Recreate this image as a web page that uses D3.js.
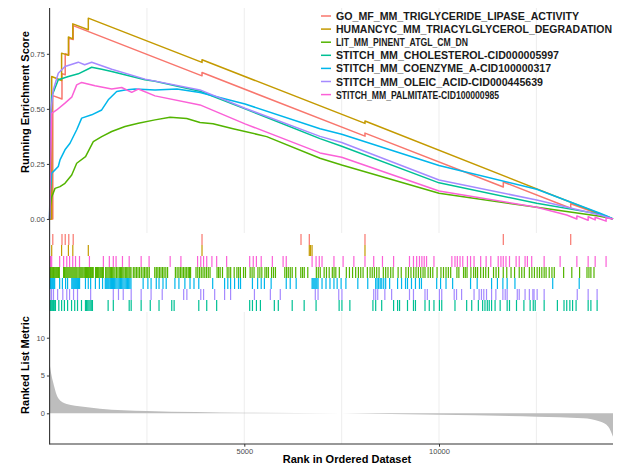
<!DOCTYPE html>
<html>
<head>
<meta charset="utf-8">
<script src="https://cdn.jsdelivr.net/npm/d3@7"></script>
<style>
  body { margin: 0; background: #fff; }
  text { font-family: "Liberation Sans", Arial, Helvetica, sans-serif; }
</style>
</head>
<body>
<div id="chart"></div>
<script>
// gene sets (legend order)
const geneSets = [
  "GO_MF_MM_TRIGLYCERIDE_LIPASE_ACTIVITY",
  "HUMANCYC_MM_TRIACYLGLYCEROL_DEGRADATION",
  "LIT_MM_PINENT_ATGL_CM_DN",
  "STITCH_MM_CHOLESTEROL-CID000005997",
  "STITCH_MM_COENZYME_A-CID100000317",
  "STITCH_MM_OLEIC_ACID-CID000445639",
  "STITCH_MM_PALMITATE-CID100000985"
];
const setColors = ["#F8766D", "#C49A00", "#53B400", "#00C094", "#00B6EB", "#A58AFF", "#FB61D7"];
const legendWidths = [243, 276, 132, 223, 215, 207, 163];

const totalGenes = 14468;
const xTicks = [5000, 10000];
const xGrid = [2500, 5000, 7500, 10000, 12500];
const esTicks = [0, 0.25, 0.5, 0.75];
const metricTicks = [0, 5, 10];

// running enrichment score, [rank, score]
const esGoMf = [[0,0],[82,0],[82,0.56],[318,0.545],[318,0.66],[401,0.655],[401,0.75],[493,0.745],[493,0.82],[606,0.815],[606,0.878],[3914,0.65],[3914,0.665],[8099,0.376],[8099,0.39],[11651,0.145],[11651,0.168],[13382,0.049],[13382,0.069],[14468,0]];
const esHumancyc = [[0,0],[54,0],[54,0.647],[308,0.629],[308,0.753],[483,0.743],[483,0.826],[596,0.818],[596,0.886],[994,0.859],[994,0.912],[3914,0.711],[3914,0.723],[8099,0.434],[8099,0.445],[14468,0]];
const esPinent = [[0,0],[10,0.05],[54,0.1],[139,0.139],[267,0.147],[395,0.162],[568,0.2],[696,0.253],[923,0.283],[1122,0.351],[1338,0.374],[1595,0.397],[1936,0.42],[2278,0.435],[2707,0.45],[3092,0.462],[3521,0.456],[3862,0.438],[4196,0.432],[4710,0.41],[5575,0.374],[6944,0.276],[7501,0.245],[10000,0.117],[12509,0.053],[14134,0.012],[14468,0]];
const esCholesterol = [[0,0],[20,0.35],[54,0.556],[223,0.632],[483,0.647],[737,0.659],[1081,0.689],[1338,0.68],[1595,0.67],[2450,0.632],[2707,0.625],[3862,0.58],[5018,0.5],[6944,0.365],[7501,0.33],[10000,0.164],[12509,0.071],[14134,0.022],[14468,0]];
const esCoenzyme = [[0,0],[10,0.1],[54,0.208],[139,0.223],[223,0.238],[267,0.268],[395,0.314],[524,0.344],[696,0.405],[824,0.458],[1081,0.473],[1338,0.495],[1507,0.541],[1723,0.579],[1936,0.586],[2193,0.59],[2707,0.586],[3272,0.59],[3862,0.574],[5018,0.522],[6944,0.41],[7501,0.385],[10000,0.243],[12509,0.135],[14134,0.026],[14306,0.014],[14468,0]];
const esOleic = [[0,0],[20,0.3],[36,0.495],[95,0.586],[223,0.662],[395,0.692],[737,0.712],[900,0.7],[1081,0.712],[1595,0.68],[2450,0.635],[3862,0.586],[5018,0.503],[6944,0.375],[7501,0.347],[10000,0.177],[12509,0.086],[14134,0.018],[14468,0]];
const esPalmitate = [[0,0],[20,0.2],[54,0.48],[182,0.495],[395,0.526],[568,0.553],[696,0.609],[824,0.62],[1166,0.605],[1595,0.59],[1852,0.597],[2108,0.575],[2278,0.59],[2707,0.559],[3862,0.518],[5018,0.432],[6944,0.3],[7501,0.28],[10000,0.127],[12509,0.053],[13279,0.018],[13540,0],[13540,0.014],[13830,-0.006],[13830,0.01],[14010,-0.004],[14010,0.008],[14290,-0.01],[14290,0.005],[14468,0]];

// gene set hits (ranks)
const hitsGoMf = [82, 318, 401, 493, 606, 3914, 6456, 6669, 8099, 11651, 13382];
const hitsHumancyc = [54, 308, 483, 596, 994, 3914, 6669, 6700, 6740, 8099];
const hitsPinent = [5, 20, 40, 60, 80, 100, 120, 145, 170, 190, 210, 230, 250, 360, 380, 400, 425, 450, 475, 500, 525, 550, 575, 600, 625, 650, 675, 700, 730, 760, 785, 810, 835, 860, 890, 920, 945, 970, 995, 1020, 1050, 1080, 1100, 1120, 1180, 1205, 1230, 1260, 1290, 1315, 1340, 1360, 1380, 1440, 1470, 1500, 1530, 1560, 1590, 1620, 1650, 1680, 1720, 1755, 1790, 1820, 1850, 1880, 1910, 1945, 1980, 2010, 2040, 2065, 2090, 2150, 2190, 2230, 2270, 2310, 2355, 2400, 2440, 2480, 2520, 2560, 2700, 2740, 2780, 2820, 2860, 2900, 2940, 2985, 3030, 3230, 3275, 3320, 3360, 3400, 3440, 3480, 3520, 3560, 3590, 3620, 3760, 3805, 3850, 3895, 3940, 3985, 4030, 4075, 4120, 4300, 4340, 4380, 4440, 4560, 4605, 4650, 4740, 4810, 4855, 4900, 4980, 5030, 5150, 5200, 5250, 5350, 5400, 5450, 5530, 5575, 5620, 5700, 5750, 5800, 6040, 6085, 6130, 6180, 6230, 6320, 6450, 6495, 6540, 6630, 6850, 6900, 6950, 7050, 7110, 7180, 7260, 7305, 7350, 7440, 7620, 7700, 7780, 7860, 7930, 7990, 8050, 8160, 8230, 8285, 8340, 8400, 8460, 8570, 8630, 8690, 8760, 8820, 8950, 9030, 9150, 9215, 9280, 9350, 9410, 9470, 9530, 9590, 9640, 9720, 9780, 9840, 9950, 10050, 10115, 10180, 10240, 10300, 10460, 10510, 10630, 10675, 10720, 10820, 10890, 10940, 10990, 11070, 11140, 11200, 11270, 11400, 11465, 11530, 11650, 11740, 11850, 11940, 12060, 12125, 12190, 12320, 12385, 12450, 12520, 12580, 12640, 12700, 12750, 12830, 12900, 12960, 13200, 13410, 13610, 13800, 13850, 13900, 13980];
const hitsCholesterol = [5, 25, 40, 60, 80, 100, 120, 150, 237, 309, 380, 462, 564, 645, 717, 819, 921, 950, 980, 1010, 1040, 1070, 1100, 1503, 1636, 2044, 2095, 2351, 2585, 2810, 3137, 3198, 3831, 4035, 4290, 5138, 5209, 5311, 5414, 5771, 5873, 6230, 6537, 6843, 7435, 7507, 7711, 8303, 8374, 8528, 8834, 8936, 8987, 9191, 9344, 9395, 9640, 9750, 9870, 10010, 10070, 10410, 10710, 10840, 11010, 11120, 11180, 11240, 11290, 11350, 11440, 11570, 11750, 11810, 11990, 12180, 12340, 12420, 12470, 12700, 13040, 13210, 13280, 13360, 13430, 13520, 13830, 13900, 14060];
const hitsCoenzyme = [5, 25, 40, 60, 80, 105, 130, 258, 329, 411, 462, 570, 595, 620, 645, 670, 695, 720, 745, 770, 921, 993, 1054, 1176, 1279, 1360, 1430, 1455, 1480, 1505, 1530, 1560, 1590, 1615, 1640, 1670, 1700, 1730, 1760, 1790, 1820, 1850, 1880, 1910, 1940, 1970, 2000, 2030, 2060, 2090, 2402, 2524, 2606, 2739, 2810, 2912, 2994, 3218, 3321, 3474, 3606, 3708, 3831, 4188, 4494, 4576, 4648, 4750, 4852, 4903, 5209, 5342, 5434, 5516, 5689, 6077, 6179, 6332, 6741, 6765, 6790, 6815, 6840, 6865, 6894, 6996, 7098, 7200, 7302, 7384, 7486, 7609, 7915, 8170, 8374, 8410, 8450, 8490, 8530, 8580, 8630, 8732, 8936, 9038, 9140, 9191, 9293, 9395, 9498, 9549, 9940, 10040, 10180, 10350, 10810, 10980, 11350, 11500, 11640, 11750, 11950, 12920, 13600];
const hitsOleic = [5, 50, 100, 206, 339, 441, 513, 615, 717, 1054, 1636, 1769, 1891, 2095, 2351, 2606, 2892, 3443, 3525, 3882, 3954, 4239, 4494, 4648, 5260, 5669, 5924, 6823, 6894, 7425, 7507, 8323, 8374, 8426, 8609, 8783, 9242, 9344, 9640, 9700, 10010, 10070, 10390, 10450, 10580, 10900, 11030, 11090, 11150, 11220, 11350, 11460, 11640, 11700, 11750, 12010, 12060, 12210, 12320, 12410, 12440, 12520, 12700, 13550, 13830, 14060];
const hitsPalmitate = [10, 30, 53, 258, 360, 441, 513, 594, 666, 768, 1023, 1381, 1534, 1636, 1707, 1871, 2044, 2351, 2555, 3096, 3372, 3800, 3882, 3954, 4035, 4168, 4290, 4546, 5138, 5230, 5311, 5434, 5720, 5996, 6077, 6741, 6843, 6925, 6996, 7302, 7537, 7813, 8099, 8323, 8548, 8834, 9242, 9344, 9426, 9498, 9560, 9620, 9680, 9870, 10330, 10410, 10470, 10540, 10610, 10730, 10810, 10900, 11070, 11210, 11330, 11520, 11590, 11650, 11720, 11810, 11980, 12060, 12210, 12270, 12380, 12700, 13110, 13540, 13830, 14010, 14290];

// ranked list metric, [rank, value]
const metricRanks = [0, 50, 95, 223, 439, 866, 1294, 2493, 5000, 7500, 10025, 12509, 13700, 14134, 14348, 14468];
const metricValues = [6.6, 5.0, 4.0, 2.0, 1.23, 0.88, 0.61, 0.3, 0.08, 0.0, -0.2, -0.45, -0.66, -1.1, -1.77, -3.1];

const esSeries = [esGoMf, esHumancyc, esPinent, esCholesterol, esCoenzyme, esOleic, esPalmitate];
const hitSeries = [hitsGoMf, hitsHumancyc, hitsPinent, hitsCholesterol, hitsCoenzyme, hitsOleic, hitsPalmitate];
// rug rows, top to bottom, by gene set index
const rugOrder = [0, 1, 6, 2, 4, 5, 3];

const width = 624;
const height = 467;
const axisColor = "#333333";
const tickTextColor = "#4d4d4d";
const gridColor = "#e8e8e8";

const svg = d3.select("#chart")
  .append("svg")
  .attr("width", width)
  .attr("height", height);

const x = d3.scaleLinear().domain([0, totalGenes]).range([49.6, 613]);
const yEs = d3.scaleLinear().domain([-0.061, 0.958]).range([232.4, 8]);
const yMetric = d3.scaleLinear().domain([-4.06, 13.4]).range([444, 312]);

// grid lines in top and bottom panels
const gridLayer = svg.append("g")
  .attr("stroke", gridColor)
  .attr("stroke-width", 0.8);
[[8, 233], [312, 444]].forEach(([y0, y1]) => {
  gridLayer.selectAll(null)
    .data(xGrid)
    .join("line")
    .attr("x1", d => x(d))
    .attr("x2", d => x(d))
    .attr("y1", y0)
    .attr("y2", y1);
});

// ranked list metric area
const metricData = metricRanks.map((r, i) => [r, metricValues[i]]);
svg.append("path")
  .datum(metricData)
  .attr("fill", "#bdbdbd")
  .attr("d", d3.area()
    .x(d => x(d[0]))
    .y0(yMetric(0))
    .y1(d => yMetric(d[1]))
    .curve(d3.curveMonotoneX));

// rug of hits
const rugTop = 234;
const rugHeight = 11;
rugOrder.forEach((setIndex, row) => {
  svg.append("g")
    .attr("stroke", setColors[setIndex])
    .attr("stroke-width", 1.2)
    .selectAll("line")
    .data(hitSeries[setIndex])
    .join("line")
    .attr("x1", d => x(d))
    .attr("x2", d => x(d))
    .attr("y1", rugTop + row * rugHeight)
    .attr("y2", rugTop + (row + 1) * rugHeight);
});

// running enrichment score curves
const esLine = d3.line()
  .x(d => x(d[0]))
  .y(d => yEs(d[1]));
svg.append("g")
  .attr("fill", "none")
  .attr("stroke-width", 1.5)
  .attr("stroke-linejoin", "round")
  .selectAll("path")
  .data(esSeries)
  .join("path")
  .attr("stroke", (d, i) => setColors[i])
  .attr("d", esLine);

// axes
const styleAxis = g => {
  g.select(".domain").remove();
  g.selectAll(".tick line").attr("stroke", axisColor);
  g.selectAll(".tick text")
    .attr("fill", tickTextColor)
    .attr("font-size", 7.5)
    .attr("font-family", "Liberation Sans, Arial, sans-serif");
};

svg.append("g")
  .attr("transform", "translate(49.6,0)")
  .call(d3.axisLeft(yEs)
    .tickValues(esTicks)
    .tickFormat(d3.format(".2f"))
    .tickSize(2.7)
    .tickPadding(2))
  .call(styleAxis);

svg.append("g")
  .attr("transform", "translate(49.6,0)")
  .call(d3.axisLeft(yMetric)
    .tickValues(metricTicks)
    .tickSize(2.7)
    .tickPadding(2))
  .call(styleAxis);

svg.append("g")
  .attr("transform", "translate(0,444)")
  .call(d3.axisBottom(x)
    .tickValues(xTicks)
    .tickFormat(d3.format("d"))
    .tickSize(2.7)
    .tickPadding(1.5))
  .call(styleAxis);

// axis lines
svg.append("line")
  .attr("x1", 49.6).attr("x2", 49.6)
  .attr("y1", 8).attr("y2", 444.5)
  .attr("stroke", axisColor)
  .attr("stroke-width", 1.1);
svg.append("line")
  .attr("x1", 49.6).attr("x2", 613)
  .attr("y1", 444).attr("y2", 444)
  .attr("stroke", axisColor)
  .attr("stroke-width", 1.1);

// axis titles
svg.append("text")
  .attr("transform", "translate(29,102) rotate(-90)")
  .attr("text-anchor", "middle")
  .attr("font-size", 11)
  .attr("font-weight", "bold")
  .text("Running Enrichment Score");
svg.append("text")
  .attr("transform", "translate(29,365) rotate(-90)")
  .attr("text-anchor", "middle")
  .attr("font-size", 11)
  .attr("font-weight", "bold")
  .text("Ranked List Metric");
svg.append("text")
  .attr("x", 347)
  .attr("y", 463)
  .attr("text-anchor", "middle")
  .attr("font-size", 11)
  .attr("font-weight", "bold")
  .text("Rank in Ordered Dataset");

// legend
const legend = svg.append("g")
  .selectAll("g")
  .data(geneSets)
  .join("g")
  .attr("transform", (d, i) => `translate(321,${16 + i * 13.1})`);
legend.append("line")
  .attr("x1", 0).attr("x2", 10)
  .attr("stroke", (d, i) => setColors[i])
  .attr("stroke-width", 1.5);
legend.append("text")
  .attr("x", 15)
  .attr("y", 4)
  .attr("font-size", 10.5)
  .attr("font-weight", "bold")
  .attr("fill", "#1a1a1a")
  .attr("textLength", (d, i) => legendWidths[i])
  .attr("lengthAdjust", "spacingAndGlyphs")
  .text(d => d);
</script>
</body>
</html>
